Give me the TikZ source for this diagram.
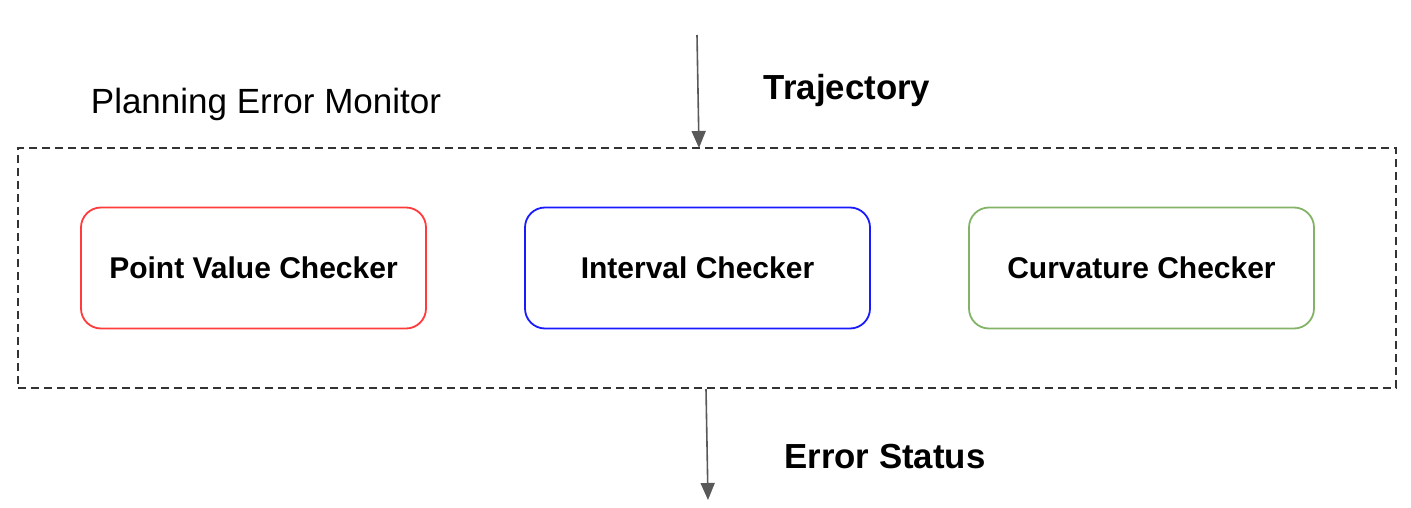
\documentclass[tikz,border=0pt]{standalone}
\usepackage{fontspec}
\setmainfont{Liberation Sans}
\usetikzlibrary{arrows.meta}
\definecolor{cred}{HTML}{FF3B3B}
\definecolor{cblue}{HTML}{1A1AFF}
\definecolor{cgreen}{HTML}{82B366}
\definecolor{carrow}{HTML}{595959}
\definecolor{cdash}{HTML}{333333}
\begin{document}
\begin{tikzpicture}[x=1pt,y=-1pt,
  checker/.style={draw, line width=1.8pt, rounded corners=20pt, minimum width=345pt, minimum height=121pt, inner sep=0pt, font=\bfseries\fontsize{30}{36}\selectfont},
  flow/.style={draw=carrow, line width=1.6pt, -{Triangle[length=17pt,width=14pt]}},
  lbl/.style={inner sep=0pt, anchor=center}]
\useasboundingbox (0,0) rectangle (1411,508);
\node[draw=cdash, line width=1.5pt, dash pattern=on 8pt off 5pt, minimum width=1378pt, minimum height=240pt, inner sep=0pt] (mon) at (707,268) {};
\node[lbl, font=\fontsize{35}{42}\selectfont] (title) at (266,104) {Planning Error Monitor};
\node[checker, draw=cred] (pv) at (253.5,268) {Point Value Checker};
\node[checker, draw=cblue] (iv) at (697.5,268) {Interval Checker};
\node[checker, draw=cgreen] (cv) at (1141.5,268) {Curvature Checker};
\coordinate (tin) at (697,35);
\coordinate (tend) at (699,148);
\coordinate (ostart) at (706,389);
\coordinate (oout) at (708,500);
\draw[flow] (tin) -- (tend);
\draw[flow] (ostart) -- (oout);
\node[lbl, font=\bfseries\fontsize{34.8}{42}\selectfont] (traj) at (847,91) {Trajectory};
\node[lbl, font=\bfseries\fontsize{34.8}{42}\selectfont] (err) at (885,457) {Error Status};
\end{tikzpicture}
\end{document}
